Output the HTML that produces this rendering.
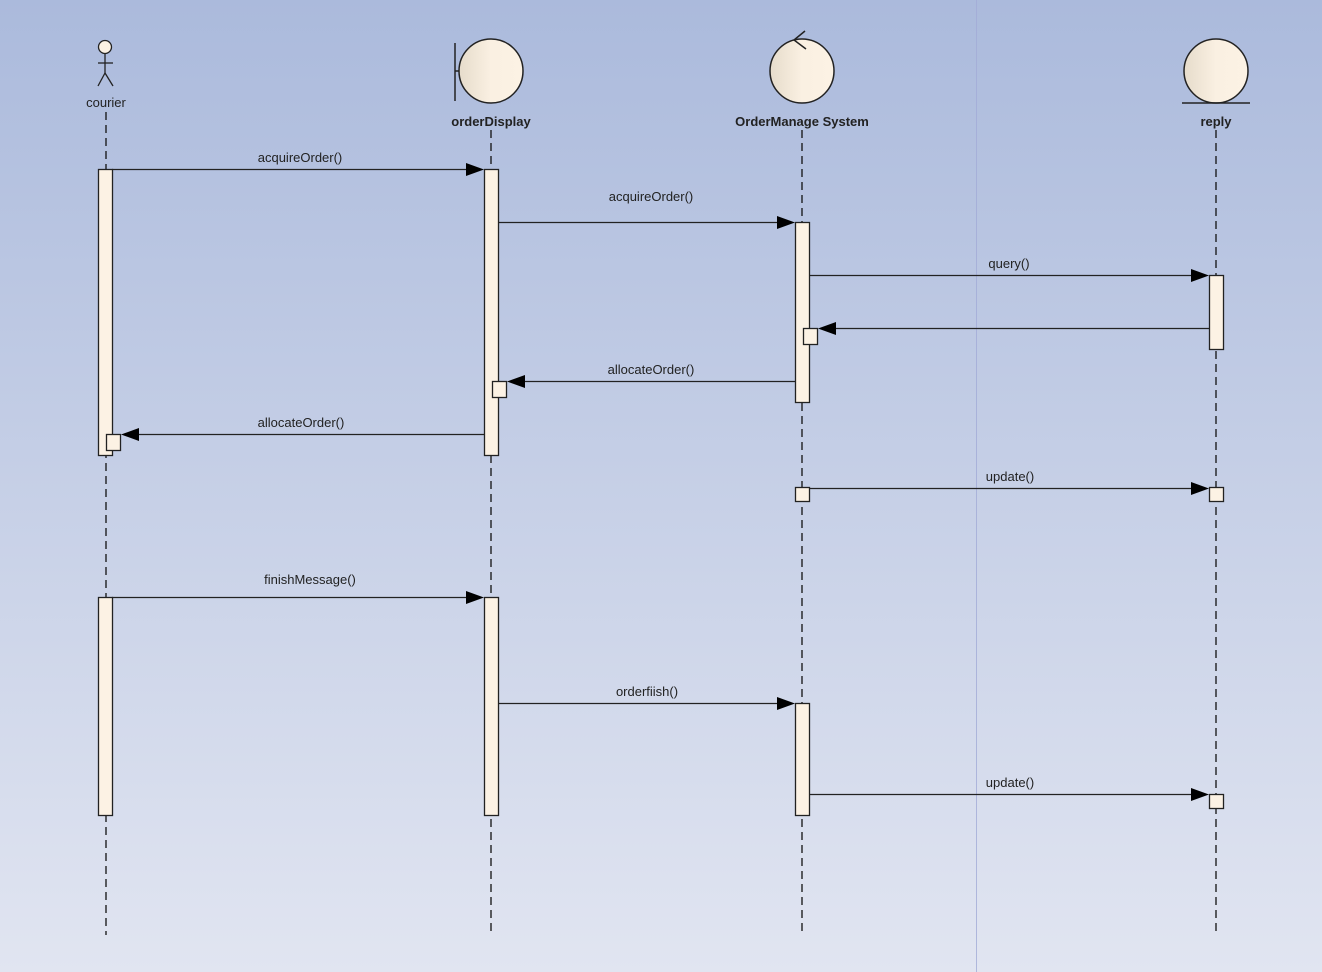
<!DOCTYPE html>
<html><head><meta charset="utf-8"><style>
html,body{margin:0;padding:0;width:1322px;height:972px;overflow:hidden}
svg{display:block}
text{font-family:"Liberation Sans",sans-serif;font-size:13px;fill:#222}
.b{font-weight:bold}
</style></head><body>
<svg width="1322" height="972" xmlns="http://www.w3.org/2000/svg">
<defs>
<linearGradient id="bg" x1="0" y1="0" x2="0" y2="1">
<stop offset="0" stop-color="#abbadc"/><stop offset="1" stop-color="#e1e5f1"/>
</linearGradient>
<linearGradient id="cf" x1="0" y1="0" x2="1" y2="0">
<stop offset="0" stop-color="#e6dccb"/><stop offset="0.5" stop-color="#faf0e2"/><stop offset="1" stop-color="#fcf2e4"/>
</linearGradient>
</defs>
<rect width="1322" height="972" fill="url(#bg)"/>
<line x1="976.5" y1="0" x2="976.5" y2="972" stroke="#a3acd8" stroke-width="1" opacity="0.8"/>

<g stroke="#111" stroke-width="1.3" stroke-dasharray="8,5" fill="none">
<line x1="106" y1="112" x2="106" y2="935"/>
<line x1="491" y1="130" x2="491" y2="935"/>
<line x1="802" y1="130" x2="802" y2="935"/>
<line x1="1216" y1="130" x2="1216" y2="935"/>
</g>

<g stroke="#222" stroke-width="1.3" fill="none">
<circle cx="105" cy="47" r="6.5" fill="#fbf1e3"/>
<line x1="105" y1="54" x2="105" y2="73"/>
<line x1="98" y1="63" x2="113" y2="63"/>
<line x1="105" y1="73" x2="98" y2="86"/>
<line x1="105" y1="73" x2="113" y2="86"/>
</g>
<text x="106" y="107" text-anchor="middle">courier</text>

<g stroke="#222" stroke-width="1.5">
<line x1="455" y1="43" x2="455" y2="101"/>
<line x1="455" y1="71" x2="459" y2="71"/>
<circle cx="491" cy="71" r="32" fill="url(#cf)"/>
</g>
<text x="491" y="126" text-anchor="middle" class="b">orderDisplay</text>

<g stroke="#222" stroke-width="1.5">
<circle cx="802" cy="71" r="32" fill="url(#cf)"/>
<polyline points="805,31 794,40 806,49" fill="none"/>
</g>
<text x="802" y="126" text-anchor="middle" class="b">OrderManage System</text>

<g stroke="#222" stroke-width="1.5">
<circle cx="1216" cy="71" r="32" fill="url(#cf)"/>
<line x1="1182" y1="103" x2="1250" y2="103"/>
</g>
<text x="1216" y="126" text-anchor="middle" class="b">reply</text>

<g fill="#fcf2e4" stroke="#222" stroke-width="1.3">
<rect x="98.5" y="169.5" width="14" height="286"/>
<rect x="98.5" y="597.5" width="14" height="218"/>
<rect x="484.5" y="169.5" width="14" height="286"/>
<rect x="484.5" y="597.5" width="14" height="218"/>
<rect x="795.5" y="222.5" width="14" height="180"/>
<rect x="795.5" y="703.5" width="14" height="112"/>
<rect x="1209.5" y="275.5" width="14" height="74"/>
<rect x="106.5" y="434.5" width="14" height="16"/>
<rect x="492.5" y="381.5" width="14" height="16"/>
<rect x="803.5" y="328.5" width="14" height="16"/>
<rect x="795.5" y="487.5" width="14" height="14"/>
<rect x="1209.5" y="487.5" width="14" height="14"/>
<rect x="1209.5" y="794.5" width="14" height="14"/>
</g>

<g stroke="#222" stroke-width="1.3">
<line x1="112" y1="169.5" x2="470" y2="169.5"/>
<line x1="498" y1="222.5" x2="780" y2="222.5"/>
<line x1="809" y1="275.5" x2="1194" y2="275.5"/>
<line x1="1209" y1="328.5" x2="833" y2="328.5"/>
<line x1="795" y1="381.5" x2="522" y2="381.5"/>
<line x1="484" y1="434.5" x2="136" y2="434.5"/>
<line x1="809" y1="488.5" x2="1194" y2="488.5"/>
<line x1="112" y1="597.5" x2="470" y2="597.5"/>
<line x1="498" y1="703.5" x2="780" y2="703.5"/>
<line x1="809" y1="794.5" x2="1194" y2="794.5"/>
</g>
<g fill="#000">
<polygon points="466,163 484,169.5 466,176"/>
<polygon points="777,216 795,222.5 777,229"/>
<polygon points="1191,269 1209,275.5 1191,282"/>
<polygon points="836,322 818,328.5 836,335"/>
<polygon points="525,375 507,381.5 525,388"/>
<polygon points="139,428 121,434.5 139,441"/>
<polygon points="1191,482 1209,488.5 1191,495"/>
<polygon points="466,591 484,597.5 466,604"/>
<polygon points="777,697 795,703.5 777,710"/>
<polygon points="1191,788 1209,794.5 1191,801"/>
</g>
<text x="300" y="162" text-anchor="middle">acquireOrder()</text>
<text x="651" y="201" text-anchor="middle">acquireOrder()</text>
<text x="1009" y="268" text-anchor="middle">query()</text>
<text x="651" y="374" text-anchor="middle">allocateOrder()</text>
<text x="301" y="427" text-anchor="middle">allocateOrder()</text>
<text x="1010" y="481" text-anchor="middle">update()</text>
<text x="310" y="584" text-anchor="middle">finishMessage()</text>
<text x="647" y="696" text-anchor="middle">orderfiish()</text>
<text x="1010" y="787" text-anchor="middle">update()</text>
</svg>
</body></html>
